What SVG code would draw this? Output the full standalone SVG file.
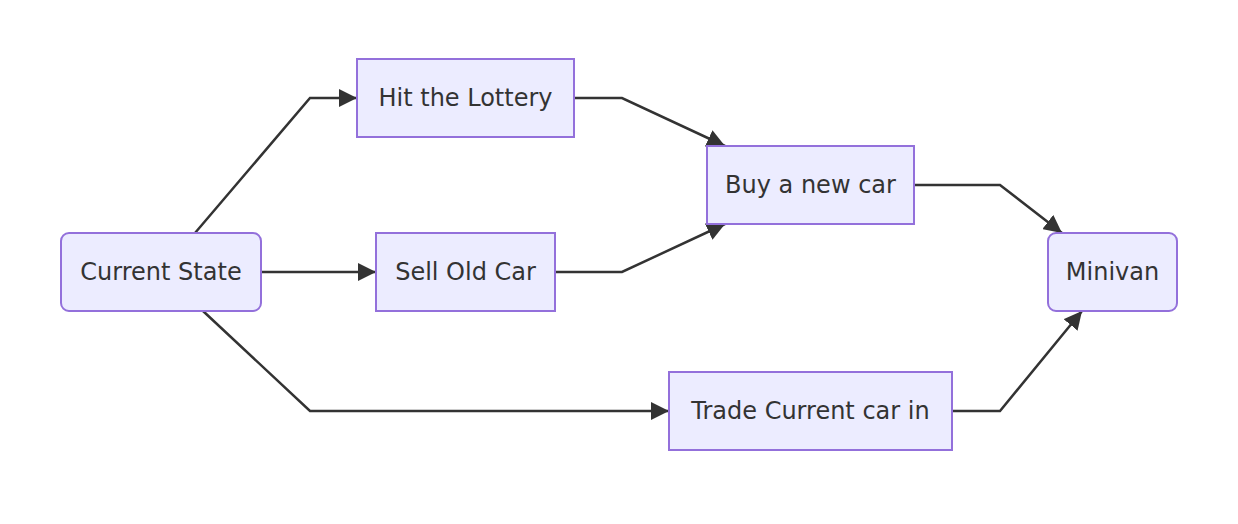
<svg xmlns="http://www.w3.org/2000/svg" width="1238" height="524" viewBox="0 0 1238 524">
<defs>
<marker id="arrow" viewBox="0 0 10 10" refX="10" refY="5" markerUnits="userSpaceOnUse" markerWidth="18" markerHeight="18" orient="auto">
<path d="M0,0 L10,5 L0,10 z" fill="#333333"/>
</marker>
<style>
.node rect{fill:#ECECFF;stroke:#9370DB;stroke-width:2}
.node text{font-family:"DejaVu Sans",Verdana,sans-serif;font-size:24px;fill:#333333;text-anchor:middle;dominant-baseline:central}
.edge{fill:none;stroke:#333333;stroke-width:2.5;marker-end:url(#arrow)}
</style>
</defs>
<rect width="1238" height="524" fill="#ffffff"/>
<g id="connectors">
<path class="edge" d="M195,233 L310,98 L357,98"/>
<path class="edge" d="M261,272 L376,272"/>
<path class="edge" d="M203,311 L310,411 L669,411"/>
<path class="edge" d="M574,98 L622,98 L725,146"/>
<path class="edge" d="M555,272 L622,272 L725,224"/>
<path class="edge" d="M914,185 L1000,185 L1062,233"/>
<path class="edge" d="M952,411 L1000,411 L1082,311"/>
</g>
<g id="current-state" class="node"><rect x="61" y="233" width="200" height="78" rx="8"/><text x="161" y="272">Current State</text></g>
<g id="hit-lottery" class="node"><rect x="357" y="59" width="217" height="78"/><text x="465.5" y="98">Hit the Lottery</text></g>
<g id="sell-old-car" class="node"><rect x="376" y="233" width="179" height="78"/><text x="465.5" y="272">Sell Old Car</text></g>
<g id="buy-new-car" class="node"><rect x="707" y="146" width="207" height="78"/><text x="810.5" y="185">Buy a new car</text></g>
<g id="trade-car" class="node"><rect x="669" y="372" width="283" height="78"/><text x="810.5" y="411">Trade Current car in</text></g>
<g id="minivan" class="node"><rect x="1048" y="233" width="129" height="78" rx="8"/><text x="1112.5" y="272">Minivan</text></g>
</svg>
